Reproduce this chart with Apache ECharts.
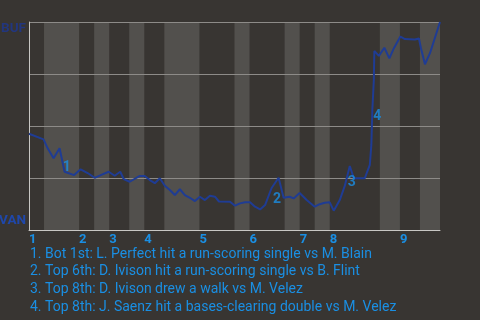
<!DOCTYPE html>
<html>
<head>
<meta charset="utf-8">
<script src="https://cdn.jsdelivr.net/npm/echarts@6/dist/echarts.min.js"></script>
<style>
  html, body { margin: 0; padding: 0; background: #383532; }
  #chart { width: 480px; height: 320px; }
</style>
</head>
<body>
<div id="chart"></div>
<script>
// Half-inning boundaries in plate appearances (top 1st starts at 0, game ends at 82)
const halfBoundaries = [0, 3, 10, 13, 16, 20, 23, 27, 34, 41, 44, 51, 54, 57, 60, 70, 74, 78, 82];
const inningLabels = ['1', '2', '3', '4', '5', '6', '7', '8', '9'];
const teamAway = 'BUF';
const teamHome = 'VAN';

// Buffalo win probability after each plate appearance
const paIndex = [0, 2.9, 3.7, 4.9, 6.1, 7.1, 9.0, 10.3, 11.7, 13.1, 14.3, 15.9, 17.1, 18.2, 18.9,
  20.1, 22.1, 23.1, 24.1, 25.1, 26.1, 27.1, 28.1, 29.1, 30.1, 31.1, 32.1, 33.1, 34.1, 35.1,
  36.1, 37.1, 37.9, 40.1, 41.1, 42.1, 43.1, 44.1, 45.1, 46.1, 47.1, 48.4, 49.8, 50.8, 52.0,
  52.8, 54.0, 55.4, 57.0, 58.0, 59.0, 60.0, 60.8, 62.0, 63.0, 64.0, 64.8, 67.0, 68.0, 68.3,
  68.5, 68.8, 68.9, 69.8, 70.9, 71.9, 72.8, 74.1, 75.0, 77.0, 77.8, 78.2, 79.0, 80.0, 82.0];
const bufWinProb = [0.463, 0.436, 0.394, 0.345, 0.393, 0.280, 0.264, 0.292, 0.274, 0.251, 0.264, 0.280, 0.261, 0.280, 0.245,
  0.232, 0.260, 0.260, 0.240, 0.225, 0.249, 0.213, 0.192, 0.168, 0.196, 0.168, 0.155, 0.139, 0.160, 0.144,
  0.165, 0.160, 0.137, 0.136, 0.117, 0.128, 0.133, 0.133, 0.112, 0.099, 0.120, 0.202, 0.251, 0.155, 0.160,
  0.152, 0.178, 0.144, 0.112, 0.124, 0.131, 0.133, 0.093, 0.144, 0.212, 0.308, 0.249, 0.249, 0.313, 0.409,
  0.577, 0.721, 0.861, 0.837, 0.876, 0.825, 0.874, 0.930, 0.918, 0.916, 0.921, 0.874, 0.797, 0.850, 1.0];

// Key plays: where each numbered tag sits (plate appearance, win probability) and its description
const eventTagPa = [7.55, 49.5, 64.4, 69.5];
const eventTagProb = [0.301, 0.148, 0.227, 0.545];
const eventNotes = [
  'Bot 1st: L. Perfect hit a run-scoring single vs M. Blain',
  'Top 6th: D. Ivison hit a run-scoring single vs B. Flint',
  'Top 8th: D. Ivison drew a walk vs M. Velez',
  'Top 8th: J. Saenz hit a bases-clearing double vs M. Velez'
];

const accent = '#1a8fe3';
const fontFamily = 'Roboto, "Noto Sans", sans-serif';

// Bottom halves are shaded
const bottomHalves = [];
for (let i = 1; i + 1 < halfBoundaries.length; i += 2) {
  bottomHalves.push([halfBoundaries[i], halfBoundaries[i + 1]]);
}
const inningStarts = inningLabels.map((_, i) => halfBoundaries[2 * i]);
const lineData = paIndex.map((x, i) => [x, bufWinProb[i]]);
const tagData = eventTagPa.map((x, i) => [x, eventTagProb[i], i + 1]);
const notesText = eventNotes.map((t, i) => (i + 1) + '. ' + t).join('\n');

const chart = echarts.init(document.getElementById('chart'), null, { renderer: 'canvas' });
chart.setOption({
  backgroundColor: '#383532',
  animation: false,
  textStyle: { fontFamily: fontFamily },
  grid: { left: 29, top: 22, right: 40, height: 208, outerBoundsMode: 'none', containLabel: false },
  title: {
    text: notesText,
    left: 30,
    top: 245.5,
    padding: 0,
    textStyle: { color: accent, fontSize: 14, fontWeight: 'normal', lineHeight: 17.6, fontFamily: fontFamily }
  },
  xAxis: {
    type: 'value',
    min: 0,
    max: halfBoundaries[halfBoundaries.length - 1],
    z: 1,
    axisLine: { show: true, lineStyle: { color: '#c8c7c4', width: 1 } },
    axisTick: { show: false },
    splitLine: { show: false },
    axisLabel: {
      customValues: inningStarts,
      formatter: v => inningLabels[inningStarts.indexOf(v)],
      align: 'left',
      margin: 3,
      color: accent,
      fontSize: 13,
      fontWeight: 'bold',
      fontFamily: fontFamily
    }
  },
  yAxis: {
    type: 'value',
    min: 0,
    max: 1,
    interval: 0.25,
    z: 1,
    axisLine: { show: true, lineStyle: { color: '#c8c7c4', width: 1 } },
    axisTick: { show: false },
    splitLine: { show: true, lineStyle: { color: '#8d8b88', width: 1 } },
    axisLabel: {
      customValues: [0.043, 0.967],
      formatter: v => (v > 0.5 ? teamAway : teamHome),
      color: v => (v > 0.5 ? '#22367e' : '#1f47aa'),
      margin: 3,
      fontSize: 13.5,
      fontWeight: 'bold',
      fontFamily: fontFamily
    }
  },
  series: [
    {
      type: 'custom',
      z: 0,
      silent: true,
      data: bottomHalves,
      renderItem: (params, api) => {
        const p0 = api.coord([api.value(0), 1]);
        const p1 = api.coord([api.value(1), 0]);
        return {
          type: 'rect',
          shape: { x: p0[0], y: p0[1], width: p1[0] - p0[0], height: p1[1] - p0[1] },
          style: { fill: '#52504d' }
        };
      }
    },
    {
      type: 'line',
      z: 2,
      data: lineData,
      symbol: 'none',
      smooth: false,
      lineStyle: { color: '#1f3c94', width: 2 }
    },
    {
      type: 'scatter',
      z: 3,
      data: tagData,
      symbolSize: 0,
      label: {
        show: true,
        position: 'inside',
        formatter: p => String(p.value[2]),
        color: accent,
        fontSize: 14,
        fontWeight: 'bold',
        fontFamily: fontFamily
      }
    }
  ]
});
</script>
</body>
</html>
